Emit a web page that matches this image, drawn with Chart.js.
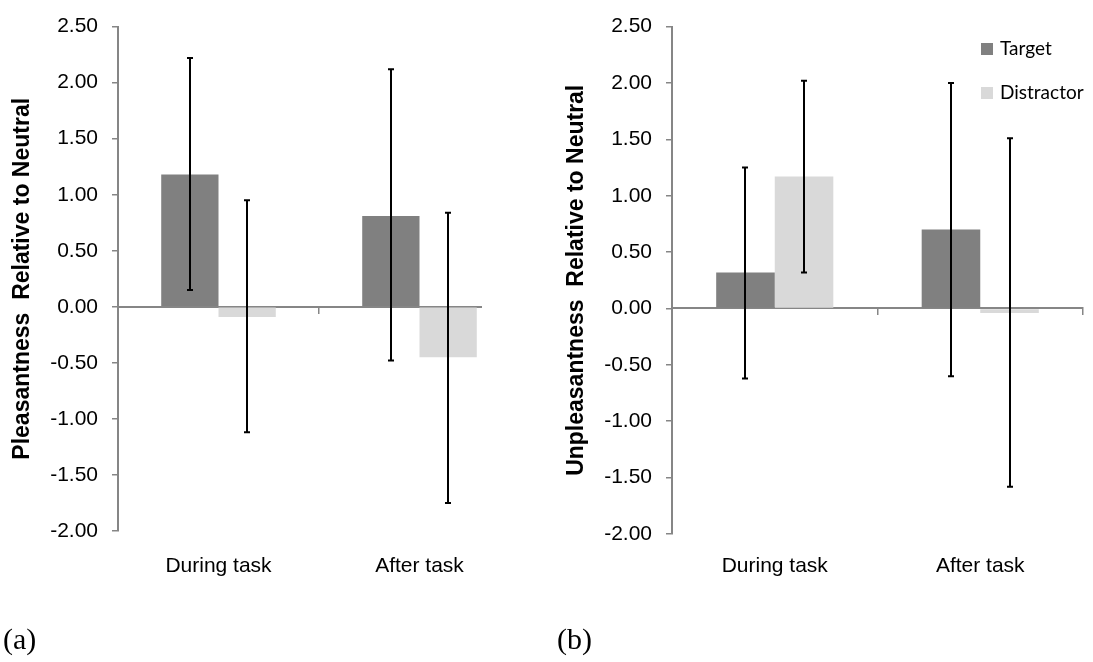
<!DOCTYPE html>
<html>
<head>
<meta charset="utf-8">
<script src="https://cdn.jsdelivr.net/npm/chart.js@4/dist/chart.umd.min.js"></script>
<style>
html,body{margin:0;padding:0;background:#fff;}
#wrap{position:relative;width:1093px;height:662px;overflow:hidden;background:#fff;}
#leftBox{position:absolute;left:0;top:0;width:482px;height:662px;overflow:hidden;}
#rightBox{position:absolute;left:555px;top:0;width:538px;height:662px;overflow:hidden;}
canvas{display:block;}
</style>
</head>
<body>
<div id="wrap">
  <div id="leftBox"><canvas id="chartA" width="540" height="662"></canvas></div>
  <div id="rightBox"><canvas id="chartB" width="538" height="662"></canvas></div>
</div>
<script>
// ---- data ----
const categories = ['During task', 'After task'];
const seriesNames = ['Target', 'Distractor'];

// (a) Pleasantness relative to neutral
const pleasTarget = [1.18, 0.81];
const pleasDistractor = [-0.09, -0.45];
const pleasTargetUpper = [2.22, 2.12];
const pleasTargetLower = [0.15, -0.48];
const pleasDistractorUpper = [0.95, 0.84];
const pleasDistractorLower = [-1.12, -1.75];

// (b) Unpleasantness relative to neutral
const unpleasTarget = [0.32, 0.70];
const unpleasDistractor = [1.17, -0.04];
const unpleasTargetUpper = [1.25, 2.00];
const unpleasTargetLower = [-0.62, -0.60];
const unpleasDistractorUpper = [2.02, 1.51];
const unpleasDistractorLower = [0.32, -1.58];

const yMin = -2.0, yMax = 2.5, yStep = 0.5;
const panelLabels = ['(a)', '(b)'];
const yTitles = ['Pleasantness  Relative to Neutral', 'Unpleasantness  Relative to Neutral'];

// ---- styles ----
const targetColor = '#808080';
const distractorColor = '#d9d9d9';
const axisColor = '#868686';
const sansFont = "'Liberation Sans', Arial, sans-serif";

Chart.defaults.font.family = sansFont;
Chart.defaults.color = '#000';

const errorBarPlugin = {
  id: 'errorBars',
  afterDraw(chart, args, opts) {
    const ctx = chart.ctx;
    const yScale = chart.scales.y;
    ctx.save();
    ctx.strokeStyle = opts.color || '#000';
    ctx.lineWidth = opts.width || 2;
    chart.data.datasets.forEach((ds, di) => {
      const meta = chart.getDatasetMeta(di);
      meta.data.forEach((bar, i) => {
        const x = Math.round(bar.x);
        const yHi = yScale.getPixelForValue(ds.errorUpper[i]);
        const yLo = yScale.getPixelForValue(ds.errorLower[i]);
        const cap = opts.cap || 3;
        ctx.beginPath();
        ctx.moveTo(x, yHi); ctx.lineTo(x, yLo);
        ctx.moveTo(x - cap, yHi); ctx.lineTo(x + cap, yHi);
        ctx.moveTo(x - cap, yLo); ctx.lineTo(x + cap, yLo);
        ctx.stroke();
      });
    });
    ctx.restore();
  }
};

const boxLegendPlugin = {
  id: 'boxLegend',
  afterDraw(chart, args, opts) {
    if (!opts.display) return;
    const ctx = chart.ctx;
    ctx.save();
    ctx.font = opts.font;
    ctx.textBaseline = 'middle';
    ctx.textAlign = 'left';
    chart.data.datasets.forEach((ds, i) => {
      const y = opts.y + i * opts.spacing;
      ctx.fillStyle = ds.backgroundColor;
      ctx.fillRect(opts.x, y - opts.box / 2, opts.box, opts.box);
      ctx.fillStyle = opts.color;
      ctx.fillText(ds.label, opts.x + opts.box + opts.gap, y);
    });
    ctx.restore();
  }
};

function makeChart(canvasId, cfg) {
  return new Chart(document.getElementById(canvasId), {
    type: 'bar',
    data: {
      labels: categories,
      datasets: [
        { label: seriesNames[0], data: cfg.target, backgroundColor: targetColor,
          errorUpper: cfg.targetUpper, errorLower: cfg.targetLower,
          categoryPercentage: 0.57, barPercentage: 1.0, xAxisID: 'x', yAxisID: 'y' },
        { label: seriesNames[1], data: cfg.distractor, backgroundColor: distractorColor,
          errorUpper: cfg.distractorUpper, errorLower: cfg.distractorLower,
          categoryPercentage: 0.57, barPercentage: 1.0, xAxisID: 'x', yAxisID: 'y' }
      ]
    },
    options: {
      responsive: false,
      animation: false,
      devicePixelRatio: 1,
      layout: { padding: cfg.padding },
      plugins: {
        legend: { display: false },
        tooltip: { enabled: false },
        title: {
          display: true, text: cfg.panel, position: 'bottom', align: 'start',
          color: '#000', font: { family: "'Liberation Serif', 'Times New Roman', serif", size: 30, weight: 'normal' },
          padding: { top: 0, bottom: 0 }
        },
        errorBars: { color: '#000', width: 2, cap: 3 },
        boxLegend: cfg.legend
      },
      scales: {
        y: {
          type: 'linear', position: 'left', min: yMin, max: yMax,
          afterFit: (s) => { s.width = cfg.yWidth; },
          ticks: { stepSize: yStep, padding: 14, color: '#000', font: { size: 21 },
                   callback: (v) => Number(v).toFixed(2) },
          grid: { display: true, drawOnChartArea: false, drawTicks: true, tickLength: 6, color: axisColor, lineWidth: 1.5 },
          border: { display: true, color: axisColor, width: 2 },
          title: { display: true, text: cfg.yTitle, color: '#000',
                   font: { size: 23, weight: 'bold' }, padding: { top: 5.5, bottom: 0 } }
        },
        x: {
          type: 'category', position: { y: 0 }, offset: true, z: 1,
          ticks: { display: false },
          grid: { display: true, offset: true, drawOnChartArea: false, drawTicks: true, tickLength: 6, color: axisColor, lineWidth: 1.5 },
          border: { display: true, color: axisColor, width: 2 }
        },
        x2: {
          type: 'category', position: 'bottom', offset: true,
          afterFit: (s) => { s.height = cfg.xHeight; },
          ticks: { color: '#000', font: { size: 21 }, padding: cfg.xPad, maxRotation: 0 },
          grid: { display: false, drawTicks: false },
          border: { display: false }
        }
      }
    },
    plugins: [errorBarPlugin, boxLegendPlugin]
  });
}

makeChart('chartA', {
  target: pleasTarget, distractor: pleasDistractor,
  targetUpper: pleasTargetUpper, targetLower: pleasTargetLower,
  distractorUpper: pleasDistractorUpper, distractorLower: pleasDistractorLower,
  panel: panelLabels[0], yTitle: yTitles[0],
  padding: { left: 3, top: 24, right: 20, bottom: 2.4 },
  yWidth: 115, xHeight: 92.6, xPad: 23,
  legend: { display: false }
});

makeChart('chartB', {
  target: unpleasTarget, distractor: unpleasDistractor,
  targetUpper: unpleasTargetUpper, targetLower: unpleasTargetLower,
  distractorUpper: unpleasDistractorUpper, distractorLower: unpleasDistractorLower,
  panel: panelLabels[1], yTitle: yTitles[1],
  padding: { left: 2, top: 22.5, right: 10, bottom: 2.4 },
  yWidth: 115, xHeight: 89.6, xPad: 20,
  legend: { display: true, x: 426, y: 49, spacing: 44, box: 12, gap: 7,
            font: "19px Lato, 'Open Sans', sans-serif", color: '#000' }
});
</script>
</body>
</html>
